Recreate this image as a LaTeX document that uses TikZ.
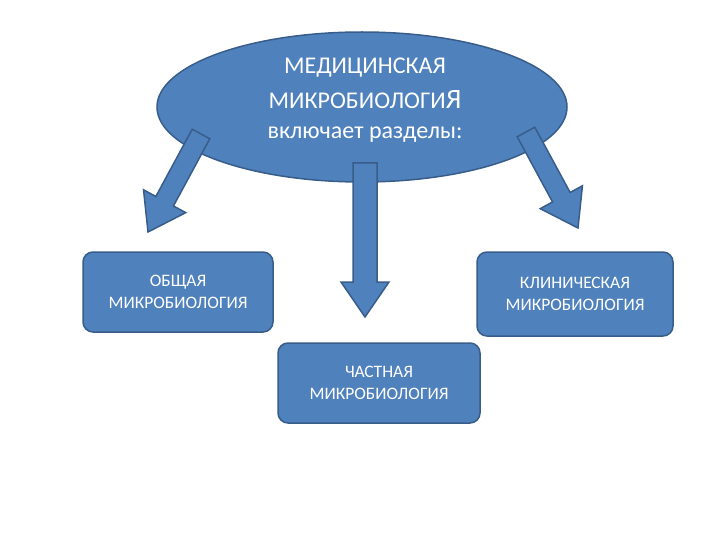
\documentclass[tikz,border=0pt]{standalone}
\usepackage{fontspec}
\setmainfont{Carlito}
\usetikzlibrary{shapes.geometric,calc}

\definecolor{fillblue}{HTML}{4F81BD}
\definecolor{edgeblue}{HTML}{385D8A}

\newcommand{\blockarrow}[3]{%
	\coordinate (h) at ($(#2)!35pt!(#1)$);
	\draw[arrowbody] ($(#1)!#3!90:(#2)$) -- ($(h)!#3!90:(#2)$) -- ($(h)!24pt!90:(#2)$) -- (#2)
		-- ($(h)!24pt!-90:(#2)$) -- ($(h)!#3!-90:(#2)$) -- ($(#1)!#3!-90:(#2)$) -- cycle;
}

\begin{document}
\begin{tikzpicture}[x=1pt,y=-1pt,
	arrowbody/.style={draw=edgeblue,fill=fillblue,line width=1.5pt,line join=miter},
	topic/.style={ellipse,draw=edgeblue,fill=fillblue,line width=1.5pt,minimum width=410pt,minimum height=150pt,inner sep=0pt},
	titletext/.style={text=white,align=center,font=\fontsize{24}{35}\selectfont},
	branch/.style={rectangle,rounded corners=10pt,draw=edgeblue,fill=fillblue,line width=1.5pt,text=white,align=center,font=\fontsize{17.5}{22}\selectfont,minimum height=80pt}]
	\useasboundingbox (0,0) rectangle (720,540);

	\node[topic] (medmicro) at (362,107) {};
	\node[titletext] (title) at (365,100) {МЕДИЦИНСКАЯ\\МИКРОБИОЛОГИ{\fontsize{28}{35}\selectfont Я}\\[-5pt]включает разделы:};

	\node[branch,minimum width=190pt] (general) at (178,292) {ОБЩАЯ\\МИКРОБИОЛОГИЯ};
	\node[branch,minimum width=196pt,minimum height=84pt] (clinical) at (575,294) {КЛИНИЧЕСКАЯ\\МИКРОБИОЛОГИЯ};
	\node[branch,minimum width=202pt] (special) at (379,383) {ЧАСТНАЯ\\МИКРОБИОЛОГИЯ};

	\coordinate (ls) at (201,134);
	\coordinate (lt) at (148,232);
	\coordinate (ms) at (365,163);
	\coordinate (mt) at (365,317);
	\coordinate (rs) at (526,132);
	\coordinate (rt) at (578,228);

	\blockarrow{ls}{lt}{10pt}
	\blockarrow{ms}{mt}{12pt}
	\blockarrow{rs}{rt}{10pt}
\end{tikzpicture}
\end{document}
